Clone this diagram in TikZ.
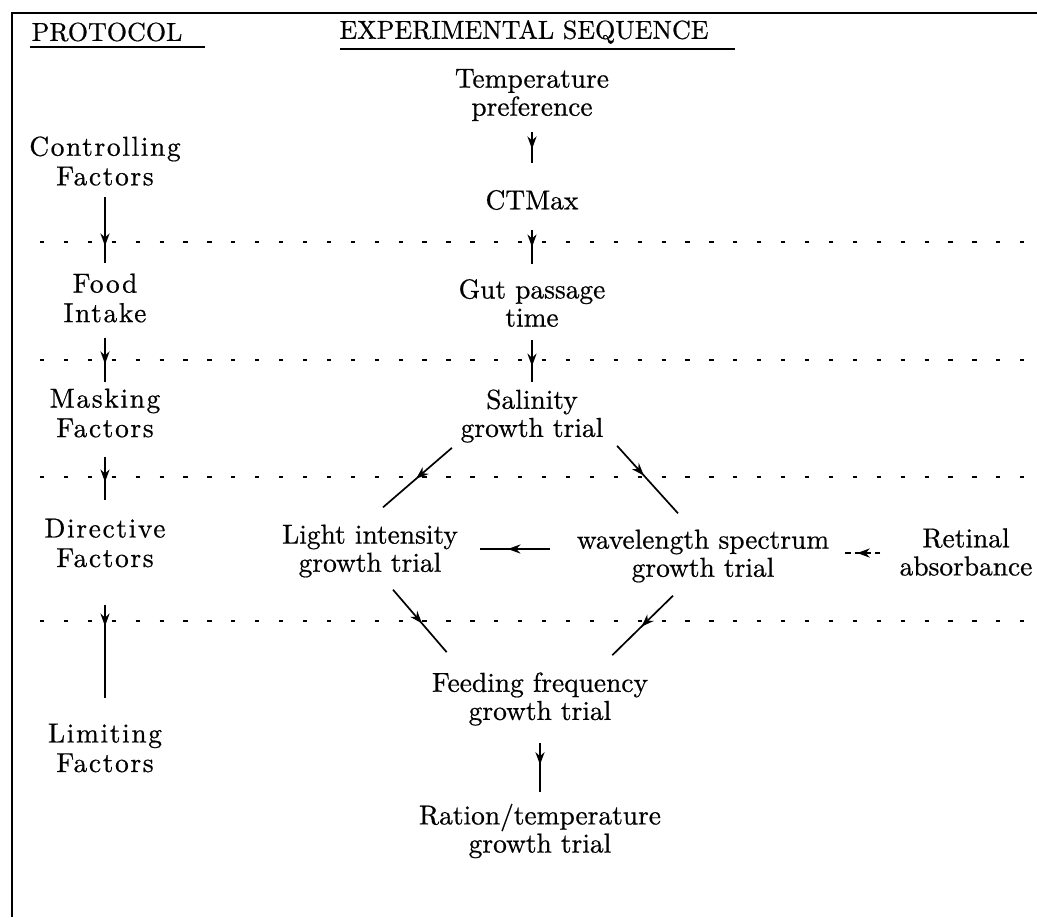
\documentclass[tikz,border=0pt]{standalone}
\usepackage{fontspec}
\setmainfont{lmroman10-regular.otf}[FakeBold=0.6]
\newfontfamily\sidefont{lmroman10-regular.otf}[LetterSpace=6,FakeBold=0.6]
\usetikzlibrary{arrows.meta,decorations.markings}
\tikzset{
thick,
every node/.style={align=center, inner sep=0pt, font=\fontsize{19.5}{20}\selectfont},
side/.style={font=\sidefont\fontsize{19.5}{21}\selectfont},
head/.style={font=\fontsize{18.5}{20}\selectfont},
flow/.style={line width=1.2pt, decoration={markings, mark=at position #1 with {\arrow{Stealth[length=9pt,width=6.5pt]}}}, postaction={decorate}},
flow/.default=0.5,
dflow/.style={flow=#1, dash pattern=on 4pt off 3pt},
sep/.style={line width=1.4pt, dash pattern=on 3pt off 14pt},
frame/.style={line width=1.6pt},
}

\begin{document}
\begin{tikzpicture}[x=0.025cm, y=-0.025cm]
    \useasboundingbox (0,0) rectangle (1037,917);
    \draw[frame] (1037,13) -- (12,13) -- (12,917);

    \node[head] (proto) at (107,32) {PROTOCOL};
    \node[head] (expt) at (524,32) {EXPERIMENTAL SEQUENCE};
    \draw[line width=1.2pt] (30,47) -- (205,47);
    \draw[line width=1.2pt] (340,49) -- (735,49);

    \foreach \y in {242,360,477,621}
        \draw[sep] (40,\y) -- (1037,\y);

    \node (temp) at (532,95) {Temperature\\preference};
    \node (ctmax) at (532,200) {CTMax};
    \node (gut) at (532,303) {Gut passage\\time};
    \node (sal) at (532,416) {Salinity\\growth trial};
    \node (light) at (370,551) {Light intensity\\growth trial};
    \node (wave) at (703,556) {wavelength spectrum\\growth trial};
    \node (retina) at (966,552) {Retinal\\absorbance};
    \node (feed) at (540,699) {Feeding frequency\\growth trial};
    \node (ration) at (540,831) {Ration/temperature\\growth trial};

    \node[side] (ctrl) at (105,161) {Controlling\\Factors};
    \node[side] (food) at (105,298) {Food\\Intake};
    \node[side] (mask) at (105,413) {Masking\\Factors};
    \node[side] (direct) at (105,543) {Directive\\Factors};
    \node[side] (limit) at (105,748) {Limiting\\Factors};

    \draw[flow=0.55] ([shift={(0,11)}]temp.south) -- ([shift={(0,-27)}]ctmax.north);
    \draw[flow=0.5] ([shift={(0,20)}]ctmax.south) -- ([shift={(0,-15)}]gut.north);
    \draw[flow=0.62] ([shift={(0,13)}]gut.south) -- ([shift={(0,-7)}]sal.north);
    \draw[flow=0.52] ([shift={(-8.5,5)}]sal.south west) -- ([shift={(13,-17)}]light.north);
    \draw[flow=0.44] ([shift={(13.5,3)}]sal.south east) -- ([shift={(-25,-16)}]wave.north);
    \draw[flow=0.6] ([shift={(-26.5,-7)}]wave.west) -- ([shift={(21.5,-2)}]light.east);
    \draw[dflow=0.62] ([shift={(-19,1)}]retina.west) -- ([shift={(13.5,-3)}]wave.east);
    \draw[flow=0.54] ([shift={(23,12)}]light.south) -- ([shift={(15,-20)}]feed.north west);
    \draw[flow=0.52] ([shift={(-30,13)}]wave.south) -- ([shift={(-36,-17)}]feed.north east);
    \draw[flow=0.45] ([shift={(0,17)}]feed.south) -- ([shift={(0,-12)}]ration.north);

    \draw[flow=0.74] ([shift={(0,11)}]ctrl.south) -- ([shift={(0,-10)}]food.north);
    \draw[flow=0.59] ([shift={(0,15)}]food.south) -- ([shift={(0,-6)}]mask.north);
    \draw[flow=0.58] ([shift={(0,19)}]mask.south) -- ([shift={(0,-18)}]direct.north);
    \draw[flow=0.23] ([shift={(0,37)}]direct.south) -- ([shift={(0,-25)}]limit.north);
\end{tikzpicture}
\end{document}
